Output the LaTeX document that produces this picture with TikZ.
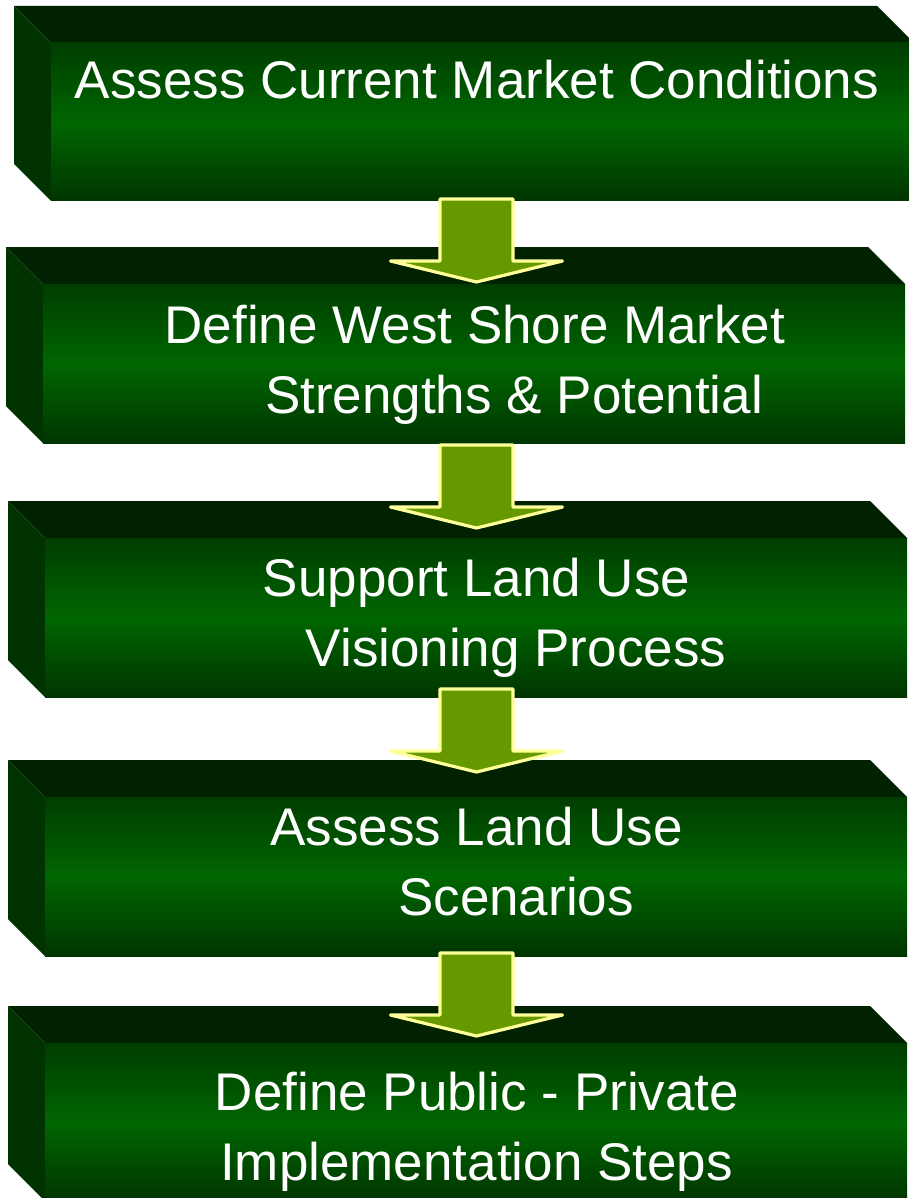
\documentclass[tikz,border=0pt]{standalone}
\usepackage{fontspec}
\setmainfont{Liberation Sans}
\definecolor{topface}{HTML}{002200}
\definecolor{sideface}{HTML}{003300}
\definecolor{fronttop}{HTML}{003D00}
\definecolor{frontmid}{HTML}{006600}
\definecolor{frontbot}{HTML}{003500}
\definecolor{arrowfill}{HTML}{669900}
\definecolor{arrowline}{HTML}{FFFF99}
\tikzset{
  topstyle/.style={fill=topface},
  sidestyle/.style={fill=sideface},
  frontstyle/.style={top color=fronttop, bottom color=frontbot, middle color=frontmid},
  txt/.style={text=white, font=\fontsize{39.75}{48}\selectfont, anchor=base, inner sep=0pt},
  blockarrow/.style={fill=arrowfill, draw=arrowline, line width=2.4pt, line join=round},
}
% name, x0, y0, x1, y1 (pixels), depth 37
\newcommand{\cubebox}[5]{%
  \fill[topstyle] (#2,#3) -- (#4-37,#3) -- (#4,#3+37) -- (#2+37,#3+37) -- cycle;
  \fill[sidestyle] (#2,#3) -- (#2+37,#3+37) -- (#2+37,#5) -- (#2,#5-37) -- cycle;
  \path[frontstyle] (#2+37,#3+37) rectangle (#4,#5);
  \coordinate (#1) at (#2+37,#3+37);
}
% name, center x, top y
\newcommand{\downblock}[3]{%
  \coordinate (#1) at (#2,#3);
  \filldraw[blockarrow] (#2-36.5,#3+2) -- (#2+36.5,#3+2) -- (#2+36.5,#3+64)
    -- (#2+86,#3+64) -- (#2,#3+85) -- (#2-86,#3+64) -- (#2-36.5,#3+64) -- cycle;
}
\begin{document}
\begin{tikzpicture}[x=0.75pt,y=-0.75pt]
\useasboundingbox (0,0) rectangle (909,1198);
\clip (0,0) rectangle (909,1198);
\fill[white] (0,0) rectangle (909,1198);

\cubebox{b1}{14}{6}{914}{201}
\cubebox{b2}{6}{247}{905}{443}
\cubebox{b3}{8}{501}{907}{697}
\cubebox{b4}{8}{760}{907}{956}
\cubebox{b5}{8}{1006}{907}{1201}

\downblock{a1}{476.5}{197}
\downblock{a2}{476.5}{443}
\downblock{a3}{476.5}{687}
\downblock{a4}{476.5}{951}

\node[txt] (t1) at (477,99) {Assess Current Market Conditions};
\node[txt] (t2a) at (475,343) {Define West Shore Market};
\node[txt] (t2b) at (514,413) {Strengths \& Potential};
\node[txt] (t3a) at (476.5,596) {Support Land Use};
\node[txt] (t3b) at (516,666) {Visioning Process};
\node[txt] (t4a) at (476.5,845) {Assess Land Use};
\node[txt] (t4b) at (516,915) {Scenarios};
\node[txt] (t5a) at (477,1110) {Define Public - Private};
\node[txt] (t5b) at (476.5,1180) {Implementation Steps};
\end{tikzpicture}
\end{document}
